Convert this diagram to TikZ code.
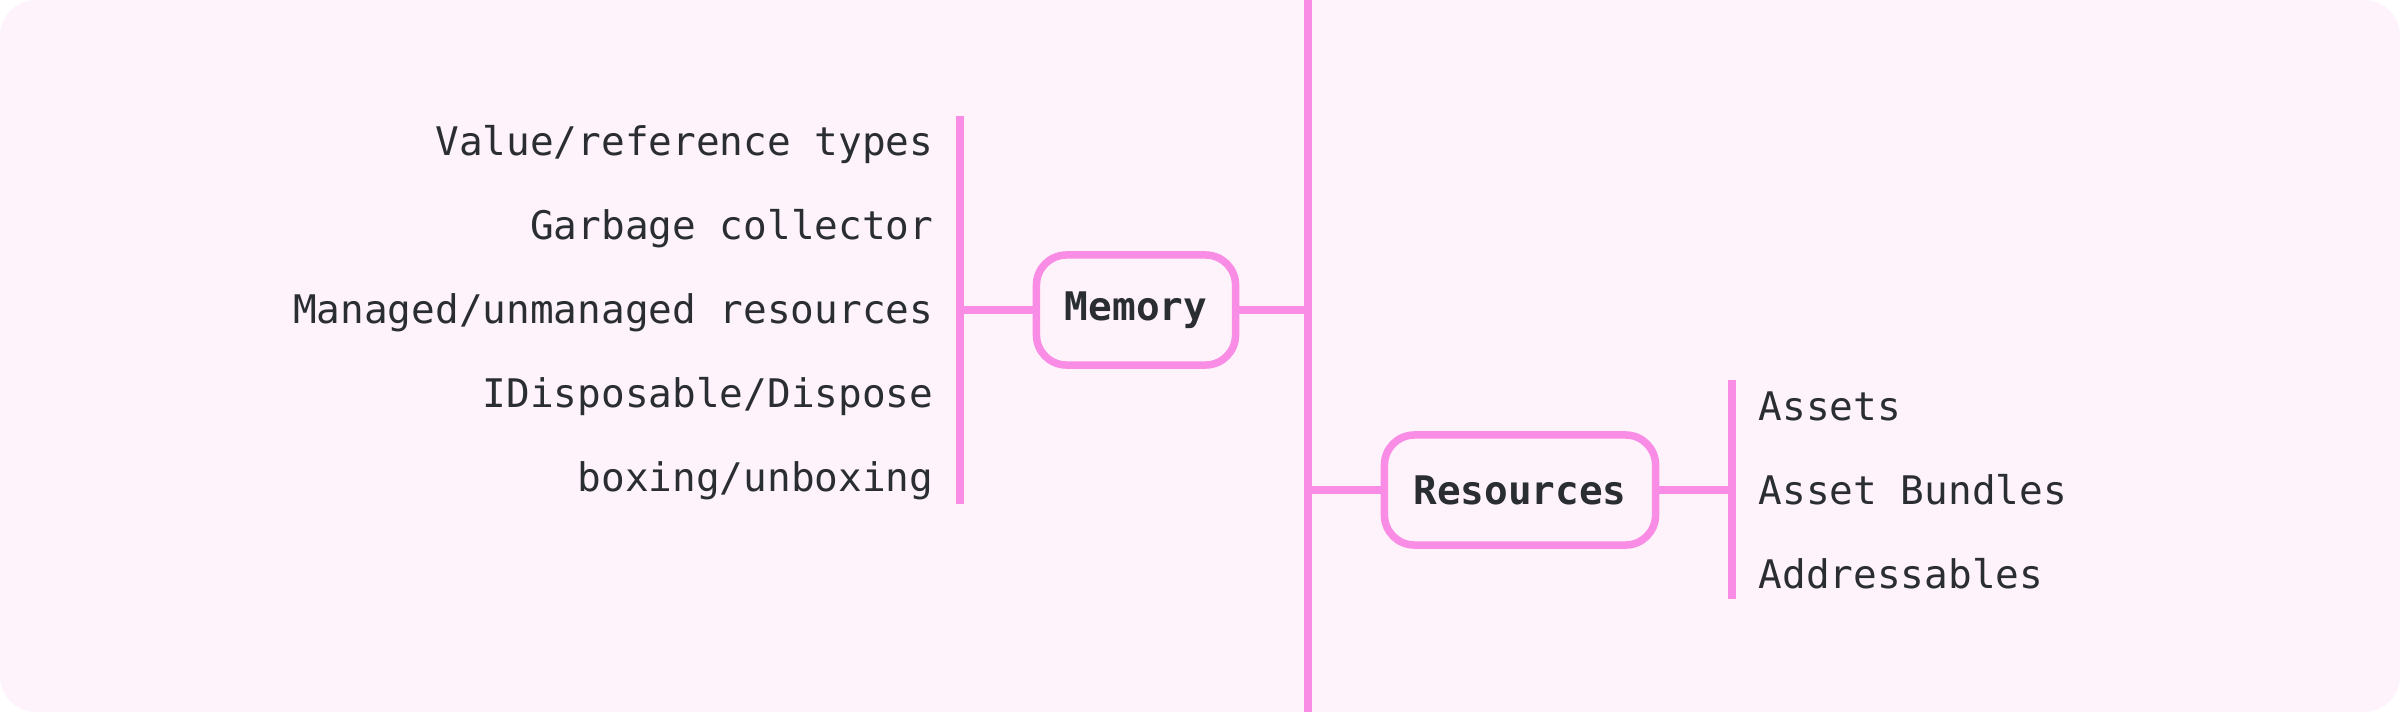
\documentclass[tikz,border=0pt]{standalone}
\usepackage{fontspec}
\setmonofont{DejaVu Sans Mono}
\definecolor{bgpink}{RGB}{254,242,251}
\definecolor{linepink}{RGB}{249,140,228}
\definecolor{txt}{RGB}{42,46,51}
\tikzset{
  conn/.style={draw=linepink, line width=0.075cm},
  topic/.style={draw=linepink, line width=0.075cm, fill=bgpink, rounded corners=0.3cm,
    inner sep=0pt, minimum height=1.1cm, text=txt, font=\ttfamily\bfseries\fontsize{11.2}{13}\selectfont},
  leaf/.style={inner sep=0pt, text=txt, font=\ttfamily\fontsize{11.2}{13}\selectfont}
}
\begin{document}
\begin{tikzpicture}[x=0.01cm, y=-0.01cm]
\useasboundingbox (0,0) rectangle (2400,712);
\fill[white] (0,0) rectangle (2400,712);
\fill[bgpink, rounded corners=0.36cm] (0,0) rectangle (2400,712);

% central spine
\coordinate (ctop) at (1308,0);
\coordinate (cbot) at (1308,712);
\draw[conn] (ctop) -- (cbot);

% topics
\node[topic, minimum width=1.99cm] (mem) at (1136,310) {Memory};
\node[topic, minimum width=2.71cm] (res) at (1520,490) {Resources};

% left bracket
\coordinate (lbt) at (960,116);
\coordinate (lbb) at (960,504);
\draw[conn] (lbt) -- (lbb);

% right bracket
\coordinate (rbt) at (1732,380);
\coordinate (rbb) at (1732,599);
\draw[conn] (rbt) -- (rbb);

% connectors
\draw[conn] (mem.east) -- (mem.east -| ctop);
\draw[conn] (res.west -| ctop) -- (res.west);
\draw[conn] (mem.west) -- (mem.west -| lbt);
\draw[conn] (res.east) -- (res.east -| rbt);

% left leaves
\node[leaf, anchor=base east] (l1) at (934,155) {Value/reference types};
\node[leaf, anchor=base east] (l2) at (934,239) {Garbage collector};
\node[leaf, anchor=base east] (l3) at (934,323) {Managed/unmanaged resources};
\node[leaf, anchor=base east] (l4) at (934,407) {IDisposable/Dispose};
\node[leaf, anchor=base east] (l5) at (934,491) {boxing/unboxing};

% right leaves
\node[leaf, anchor=base west] (r1) at (1758,420) {Assets};
\node[leaf, anchor=base west] (r2) at (1758,504) {Asset Bundles};
\node[leaf, anchor=base west] (r3) at (1758,588) {Addressables};
\end{tikzpicture}
\end{document}
